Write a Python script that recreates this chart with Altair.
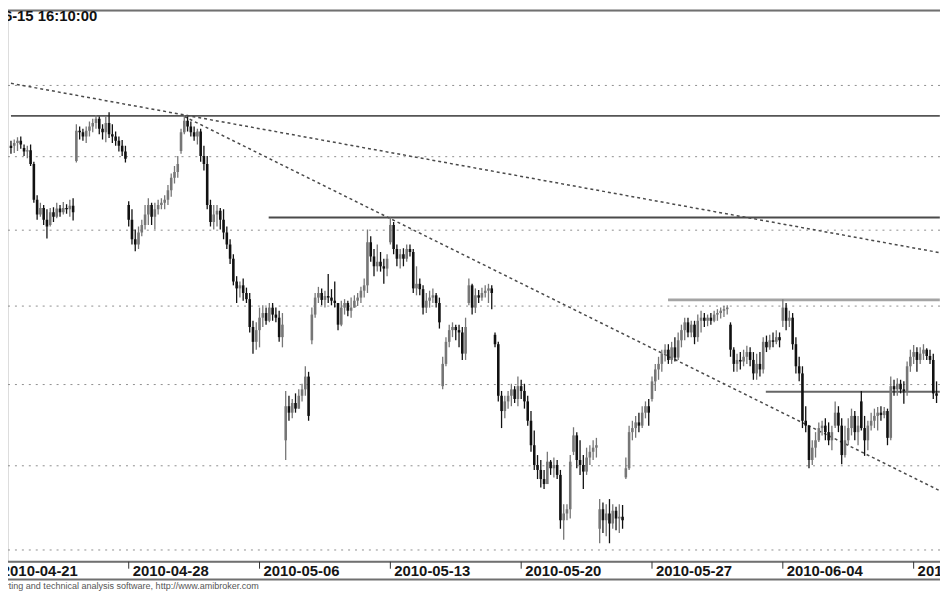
import altair as alt
import pandas as pd

# ---------------- data ----------------
# hourly bars, 8 per trading day; bar 0 = first bar of 2010-04-21
day_labels = ["2010-04-21", "2010-04-28", "2010-05-06", "2010-05-13",
              "2010-05-20", "2010-05-27", "2010-06-04", "2010-06-11"]
day_label_bar = [0, 40, 80, 120, 160, 200, 240, 280]
first_bar = 4

high = [
    32.22, 32.24, 32.27, 32.28,
    32.17, 32.15, 32.17, 31.93, 31.47, 31.37, 31.34, 31.28,
    31.30, 31.31, 31.37, 31.34, 31.38, 31.35, 31.41, 31.43,
    32.45, 32.42, 32.39, 32.42, 32.49, 32.53, 32.58, 32.56,
    32.45, 32.56, 32.62, 32.45, 32.35, 32.28, 32.23, 32.15,
    31.39, 31.28, 31.01, 31.05, 31.14, 31.34, 31.43, 31.37,
    31.37, 31.41, 31.43, 31.47, 31.61, 31.77, 31.87, 32.01,
    32.39, 32.58, 32.56, 32.49, 32.42, 32.39, 32.39, 32.15,
    32.01, 31.41, 31.34, 31.34, 31.30, 31.28, 31.05, 30.88,
    30.68, 30.39, 30.32, 30.36, 30.24, 30.17, 29.81, 29.79,
    29.98, 30.01, 29.98, 30.04, 30.04, 29.98, 29.94, 29.91,
    28.92, 28.86, 28.82, 28.89, 28.94, 29.01, 29.23, 29.16,
    29.98, 30.17, 30.25, 30.23, 30.20, 30.42, 30.22, 30.32,
    30.04, 30.07, 30.09, 30.07, 30.11, 30.14, 30.17, 30.25,
    30.36, 31.01, 30.92, 30.75, 30.81, 30.71, 30.62, 30.68,
    31.17, 31.11, 30.81, 30.75, 30.76, 30.81, 30.81, 30.75,
    30.52, 30.36, 30.27, 30.17, 30.20, 30.23, 30.17, 30.11,
    29.35, 29.60, 29.76, 29.79, 29.76, 29.76, 29.73, 29.85,
    30.36, 30.29, 30.23, 30.21, 30.24, 30.27, 30.29, 30.27,
    29.66, 29.54, 28.92, 28.86, 28.92, 29.01, 28.98, 29.10,
    29.06, 29.01, 28.86, 28.67, 28.43, 28.13, 28.07, 27.95,
    28.17, 28.07, 28.10, 28.07, 27.95, 27.54, 27.54, 28.13,
    28.47, 28.41, 28.31, 28.13, 28.22, 28.25, 28.31, 28.34,
    27.60, 27.56, 27.54, 27.60, 27.54, 27.51, 27.54, 27.53,
    28.10, 28.49, 28.55, 28.61, 28.65, 28.73, 28.79, 28.82,
    29.10, 29.26, 29.35, 29.44, 29.51, 29.51, 29.54, 29.60,
    29.66, 29.76, 29.85, 29.85, 29.81, 29.81, 29.89, 29.94,
    29.91, 29.89, 29.91, 29.94, 29.96, 29.98, 30.00, 30.01,
    29.79, 29.47, 29.39, 29.41, 29.44, 29.49, 29.47, 29.41,
    29.39, 29.41, 29.60, 29.62, 29.63, 29.66, 29.69, 29.66,
    30.09, 30.04, 29.94, 29.91, 29.60, 29.35, 29.23, 28.73,
    28.49, 28.31, 28.41, 28.53, 28.55, 28.58, 28.53, 28.49,
    28.79, 28.73, 28.58, 28.49, 28.58, 28.70, 28.67, 28.61,
    28.92, 28.61, 28.55, 28.65, 28.70, 28.72, 28.73, 28.72,
    28.70, 29.10, 29.06, 29.08, 29.06, 29.04, 29.29, 29.44,
    29.50, 29.47, 29.47, 29.51, 29.46, 29.44, 29.39, 29.04,
]
low = [
    32.04, 32.05, 32.08, 32.11,
    32.01, 31.98, 31.87, 31.37, 31.14, 31.18, 31.07, 30.89,
    31.05, 31.11, 31.16, 31.18, 31.21, 31.22, 31.18, 31.13,
    31.92, 32.24, 32.22, 32.19, 32.28, 32.34, 32.39, 32.31,
    32.24, 32.20, 32.26, 32.19, 32.15, 32.07, 32.01, 31.92,
    31.05, 30.81, 30.72, 30.75, 30.92, 31.01, 31.07, 31.07,
    31.01, 31.21, 31.28, 31.28, 31.34, 31.45, 31.63, 31.71,
    32.04, 32.31, 32.35, 32.28, 32.22, 32.17, 31.93, 31.81,
    31.28, 31.05, 31.01, 31.05, 31.01, 30.88, 30.75, 30.55,
    30.27, 30.04, 30.11, 30.07, 30.04, 29.66, 29.39, 29.44,
    29.47, 29.73, 29.76, 29.79, 29.81, 29.79, 29.54, 29.47,
    28.07, 28.55, 28.58, 28.65, 28.70, 28.79, 28.86, 28.55,
    29.51, 29.85, 30.04, 30.01, 29.98, 30.04, 30.01, 29.98,
    29.69, 29.74, 29.89, 29.87, 29.85, 29.98, 30.00, 30.04,
    30.11, 30.17, 30.58, 30.39, 30.45, 30.45, 30.29, 30.39,
    30.81, 30.68, 30.52, 30.49, 30.52, 30.58, 30.65, 30.17,
    30.14, 30.14, 29.89, 29.91, 29.98, 30.04, 29.98, 29.71,
    28.94, 29.23, 29.47, 29.60, 29.56, 29.47, 29.31, 29.31,
    30.01, 29.89, 29.91, 30.04, 30.07, 30.11, 30.04, 29.96,
    29.47, 28.79, 28.46, 28.58, 28.70, 28.73, 28.77, 28.73,
    28.82, 28.70, 28.49, 28.17, 27.95, 27.84, 27.74, 27.72,
    27.78, 27.89, 27.86, 27.84, 27.25, 27.12, 27.35, 27.37,
    28.13, 27.97, 27.89, 27.72, 27.89, 28.01, 28.07, 28.10,
    27.08, 27.20, 27.16, 27.08, 27.25, 27.23, 27.20, 27.25,
    27.84, 27.95, 28.31, 28.34, 28.41, 28.46, 28.58, 28.49,
    28.79, 28.92, 29.06, 29.16, 29.29, 29.26, 29.26, 29.29,
    29.31, 29.47, 29.56, 29.60, 29.60, 29.51, 29.54, 29.66,
    29.73, 29.74, 29.76, 29.79, 29.81, 29.84, 29.86, 29.89,
    29.35, 29.16, 29.16, 29.19, 29.23, 29.26, 29.23, 29.06,
    29.06, 29.10, 29.14, 29.41, 29.44, 29.47, 29.51, 29.47,
    29.73, 29.69, 29.73, 29.44, 29.14, 29.04, 28.46, 28.41,
    27.97, 28.01, 28.10, 28.29, 28.37, 28.31, 28.25, 28.19,
    28.46, 28.41, 28.02, 28.10, 28.25, 28.37, 28.31, 28.25,
    28.43, 28.12, 28.19, 28.43, 28.46, 28.43, 28.55, 28.58,
    28.25, 28.31, 28.86, 28.86, 28.89, 28.76, 28.86, 29.16,
    29.26, 29.16, 29.26, 29.31, 29.31, 29.26, 28.82, 28.77,
]
open_ = [
    32.15, 32.15, 32.19, 32.22,
    32.12, 32.07, 32.09, 31.90, 31.41, 31.21, 31.30, 31.14,
    31.07, 31.24, 31.18, 31.29, 31.24, 31.30, 31.28, 31.33,
    31.94, 32.36, 32.34, 32.28, 32.36, 32.42, 32.47, 32.53,
    32.39, 32.34, 32.47, 32.31, 32.28, 32.22, 32.15, 32.07,
    31.34, 31.14, 30.88, 30.81, 30.97, 31.07, 31.21, 31.34,
    31.18, 31.28, 31.34, 31.37, 31.41, 31.54, 31.71, 31.79,
    32.08, 32.34, 32.50, 32.42, 32.34, 32.28, 32.35, 32.01,
    31.90, 31.34, 31.11, 31.21, 31.26, 31.14, 30.97, 30.81,
    30.62, 30.32, 30.23, 30.27, 30.17, 30.09, 29.73, 29.54,
    29.69, 29.85, 29.91, 29.81, 29.98, 29.89, 29.85, 29.60,
    28.31, 28.73, 28.65, 28.77, 28.70, 28.86, 28.94, 29.10,
    29.56, 29.89, 30.11, 30.17, 30.08, 30.13, 30.11, 30.07,
    30.04, 29.76, 29.98, 30.04, 29.94, 29.98, 30.07, 30.11,
    30.20, 30.27, 30.84, 30.65, 30.52, 30.58, 30.52, 30.49,
    30.84, 31.07, 30.75, 30.62, 30.68, 30.62, 30.75, 30.71,
    30.23, 30.29, 30.22, 29.98, 30.07, 30.11, 30.14, 30.04,
    28.98, 29.26, 29.54, 29.69, 29.73, 29.69, 29.66, 29.39,
    30.04, 30.27, 29.98, 30.14, 30.11, 30.17, 30.20, 30.23,
    29.63, 29.51, 28.86, 28.67, 28.79, 28.86, 28.94, 28.82,
    28.98, 28.92, 28.79, 28.55, 28.25, 28.01, 27.95, 27.84,
    27.78, 28.05, 27.97, 28.01, 27.89, 27.35, 27.43, 27.48,
    28.17, 28.37, 28.07, 28.01, 27.93, 28.10, 28.17, 28.22,
    27.25, 27.48, 27.35, 27.43, 27.31, 27.46, 27.37, 27.39,
    27.86, 27.97, 28.41, 28.46, 28.53, 28.49, 28.65, 28.73,
    28.82, 29.04, 29.19, 29.26, 29.39, 29.44, 29.31, 29.47,
    29.34, 29.56, 29.69, 29.79, 29.66, 29.76, 29.60, 29.81,
    29.85, 29.81, 29.85, 29.81, 29.89, 29.91, 29.94, 29.96,
    29.76, 29.44, 29.26, 29.31, 29.29, 29.35, 29.41, 29.31,
    29.14, 29.26, 29.19, 29.54, 29.47, 29.56, 29.54, 29.60,
    29.81, 29.98, 29.81, 29.85, 29.51, 29.23, 29.14, 28.55,
    28.49, 28.07, 28.22, 28.31, 28.46, 28.49, 28.41, 28.31,
    28.49, 28.65, 28.49, 28.13, 28.31, 28.46, 28.61, 28.41,
    28.79, 28.46, 28.31, 28.49, 28.55, 28.61, 28.65, 28.62,
    28.67, 28.34, 28.98, 28.94, 29.01, 28.94, 28.92, 29.23,
    29.35, 29.41, 29.31, 29.39, 29.44, 29.36, 29.31, 28.89,
]
close = [
    32.12, 32.19, 32.22, 32.17,
    32.07, 32.09, 31.90, 31.41, 31.21, 31.30, 31.14, 31.05,
    31.24, 31.18, 31.29, 31.24, 31.30, 31.28, 31.33, 31.24,
    32.36, 32.34, 32.28, 32.36, 32.42, 32.47, 32.53, 32.39,
    32.34, 32.47, 32.31, 32.28, 32.22, 32.15, 32.07, 31.97,
    31.14, 30.88, 30.81, 30.97, 31.07, 31.21, 31.34, 31.18,
    31.28, 31.34, 31.37, 31.41, 31.54, 31.71, 31.79, 31.90,
    32.34, 32.50, 32.42, 32.34, 32.28, 32.35, 32.01, 31.90,
    31.34, 31.11, 31.21, 31.26, 31.14, 30.97, 30.81, 30.62,
    30.32, 30.23, 30.27, 30.17, 30.09, 29.73, 29.54, 29.69,
    29.85, 29.91, 29.81, 29.98, 29.89, 29.85, 29.60, 29.76,
    28.73, 28.65, 28.77, 28.70, 28.86, 28.94, 29.10, 28.61,
    29.89, 30.11, 30.17, 30.08, 30.13, 30.11, 30.07, 30.04,
    29.76, 29.98, 30.04, 29.94, 29.98, 30.07, 30.11, 30.20,
    30.27, 30.84, 30.65, 30.52, 30.58, 30.52, 30.49, 30.62,
    31.07, 30.75, 30.62, 30.68, 30.62, 30.75, 30.71, 30.23,
    30.29, 30.22, 29.98, 30.07, 30.11, 30.14, 30.04, 29.79,
    29.26, 29.54, 29.69, 29.73, 29.69, 29.66, 29.39, 29.73,
    30.27, 29.98, 30.14, 30.11, 30.17, 30.20, 30.23, 30.17,
    29.51, 28.86, 28.67, 28.79, 28.86, 28.94, 28.82, 28.98,
    28.92, 28.79, 28.55, 28.25, 28.01, 27.95, 27.84, 27.78,
    28.05, 27.97, 28.01, 27.89, 27.35, 27.43, 27.48, 28.05,
    28.37, 28.07, 28.01, 27.93, 28.10, 28.17, 28.22, 28.25,
    27.48, 27.35, 27.43, 27.31, 27.46, 27.37, 27.39, 27.35,
    27.97, 28.41, 28.46, 28.53, 28.49, 28.65, 28.73, 28.65,
    29.04, 29.19, 29.26, 29.39, 29.44, 29.31, 29.47, 29.34,
    29.56, 29.69, 29.79, 29.66, 29.76, 29.60, 29.81, 29.85,
    29.81, 29.85, 29.81, 29.89, 29.91, 29.94, 29.96, 29.98,
    29.44, 29.26, 29.31, 29.29, 29.35, 29.41, 29.31, 29.14,
    29.26, 29.19, 29.54, 29.47, 29.56, 29.54, 29.60, 29.56,
    29.98, 29.81, 29.85, 29.51, 29.23, 29.14, 28.55, 28.49,
    28.07, 28.22, 28.31, 28.46, 28.49, 28.41, 28.31, 28.41,
    28.65, 28.49, 28.13, 28.31, 28.46, 28.61, 28.41, 28.49,
    28.46, 28.31, 28.49, 28.55, 28.61, 28.65, 28.62, 28.67,
    28.34, 28.98, 28.94, 29.01, 28.94, 28.92, 29.23, 29.35,
    29.41, 29.31, 29.39, 29.44, 29.36, 29.31, 28.89, 28.86,
]

grid_levels = [27, 28, 29, 30, 31, 32, 33]

# horizontal support / resistance lines
level_price = [32.57, 31.17, 30.08, 28.91]
level_start = [4, 82.8, 204.9, 234.8]
level_end = [288, 288, 288, 288]
level_color = ["#555555", "#4a4a4a", "#a4a4a4", "#666666"]
level_width = [1.8, 1.8, 2.8, 1.8]

# dashed trend lines
trend_name = ["A", "A", "B", "B"]
trend_bar = [4, 288, 57, 288]
trend_price = [33.03, 30.70, 32.56, 27.70]

title_text = "2010-06-15 16:10:00"
footer_text = "AmiBroker - advanced charting and technical analysis software, http://www.amibroker.com"

# ---------------- chart ----------------
W, H = 940, 556
FONT = "Liberation Sans"

bars = pd.DataFrame({
    "i": list(range(first_bar, first_bar + len(high))),
    "high": high, "low": low, "open": open_, "close": close,
})
bars["dir"] = ["up" if c >= o else "down" for o, c in zip(open_, close)]

xs = alt.Scale(domain=[4.61, 286.54], nice=False, zero=False)
ys = alt.Scale(type="log", domain=[26.863, 34.086], nice=False)
dir_color = alt.Color("dir:N", scale=alt.Scale(domain=["up", "down"], range=["#767676", "#111111"]), legend=None)

grid = alt.Chart(pd.DataFrame({"p": grid_levels})).mark_rule(
    color="#8e8e8e", strokeDash=[2, 5], strokeWidth=1
).encode(y=alt.Y("p:Q", scale=ys, axis=None), x=alt.value(0), x2=alt.value(W))

level_layers = []
for p, s, e, c, w in zip(level_price, level_start, level_end, level_color, level_width):
    level_layers.append(
        alt.Chart(pd.DataFrame({"p": [p], "s": [s], "e": [e]})).mark_rule(
            color=c, strokeWidth=w, clip=True
        ).encode(
            x=alt.X("s:Q", scale=xs, axis=None), x2="e:Q",
            y=alt.Y("p:Q", scale=ys, axis=None),
        )
    )

trends = alt.Chart(pd.DataFrame({"name": trend_name, "i": trend_bar, "p": trend_price})).mark_line(
    color="#4a4a4a", strokeDash=[3, 3], strokeWidth=1.5, clip=True
).encode(
    x=alt.X("i:Q", scale=xs, axis=None),
    y=alt.Y("p:Q", scale=ys, axis=None),
    detail="name:N",
)

wicks = alt.Chart(bars).mark_rule(strokeWidth=1.3, clip=True).encode(
    x=alt.X("i:Q", scale=xs, axis=None),
    y=alt.Y("low:Q", scale=ys, axis=None), y2="high:Q",
    color=dir_color,
)
bodies = alt.Chart(bars).mark_bar(size=2.6, clip=True).encode(
    x=alt.X("i:Q", scale=xs, axis=None),
    y=alt.Y("open:Q", scale=ys, axis=None), y2="close:Q",
    color=dir_color,
)

frame_top = alt.Chart(pd.DataFrame({"k": [0]})).mark_rule(color="#707070", strokeWidth=2).encode(
    x=alt.value(0), x2=alt.value(W), y=alt.value(0))
frame_bottom = alt.Chart(pd.DataFrame({"k": [0]})).mark_rule(color="#707070", strokeWidth=2).encode(
    x=alt.value(0), x2=alt.value(W), y=alt.value(H))
frame_low = alt.Chart(pd.DataFrame({"k": [0]})).mark_rule(color="#707070", strokeWidth=2).encode(
    x=alt.value(0), x2=alt.value(W), y=alt.value(H + 18))

days_df = pd.DataFrame({"i": day_label_bar, "d": day_labels})
date_ticks = alt.Chart(days_df).mark_rule(color="#333333", strokeWidth=1).encode(
    x=alt.X("i:Q", scale=xs, axis=None), y=alt.value(H), y2=alt.value(H + 7))
date_text = alt.Chart(days_df).mark_text(
    align="left", baseline="middle", dx=4, fontSize=15, fontWeight="bold", font=FONT, color="#151515"
).encode(x=alt.X("i:Q", scale=xs, axis=None), y=alt.value(H + 9), text="d:N")

title = alt.Chart(pd.DataFrame({"t": [title_text]})).mark_text(
    align="right", baseline="alphabetic", fontSize=15, fontWeight="bold", font=FONT, color="#111111"
).encode(x=alt.value(90), y=alt.value(11), text="t:N")

footer = alt.Chart(pd.DataFrame({"t": [footer_text]})).mark_text(
    align="right", baseline="middle", fontSize=9.1, font=FONT, color="#555555"
).encode(x=alt.value(253), y=alt.value(H + 24), text="t:N")

chart = alt.layer(
    grid, *level_layers, trends, wicks, bodies,
    frame_top, frame_bottom, frame_low, date_ticks, date_text, title, footer,
).properties(
    width=W, height=H,
    autosize=alt.AutoSizeParams(type="none"),
    padding={"left": 0, "top": 0, "right": 0, "bottom": 29},
).configure_view(strokeWidth=0).configure(background="white")

chart.save("out.html", embed_options={"renderer": "svg", "actions": False})
